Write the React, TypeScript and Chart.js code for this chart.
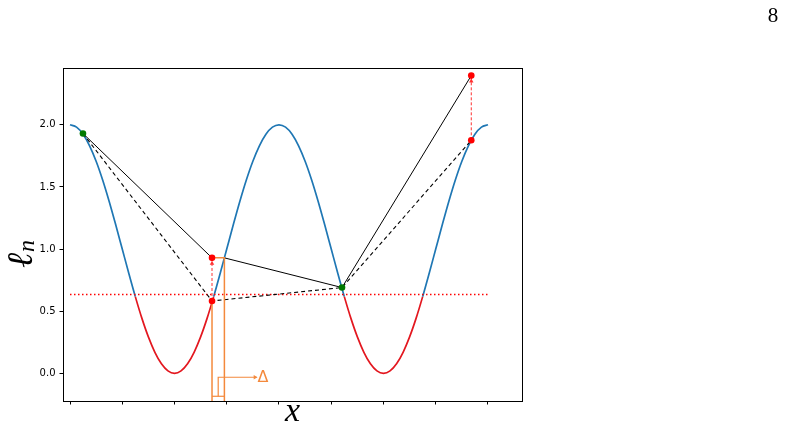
import { useEffect, useRef } from "react";
import { Chart, registerables } from "chart.js";
Chart.register(...registerables);

// x in units of pi/2 (ticks unlabeled)
const curveX = [
  0, 0.125, 0.25, 0.375, 0.5, 0.625, 0.75, 0.875, 1, 1.125, 1.25, 1.375, 1.5, 1.625, 1.75, 1.875,
  2, 2.125, 2.25, 2.375, 2.5, 2.625, 2.75, 2.875, 3, 3.125, 3.25, 3.375, 3.5, 3.625, 3.75, 3.875,
  4, 4.125, 4.25, 4.375, 4.5, 4.625, 4.75, 4.875, 5, 5.125, 5.25, 5.375, 5.5, 5.625, 5.75, 5.875,
  6, 6.125, 6.25, 6.375, 6.5, 6.625, 6.75, 6.875, 7, 7.125, 7.25, 7.375, 7.5, 7.625, 7.75, 7.875, 8,
];
const curveY = [
  2.0, 1.981, 1.924, 1.831, 1.707, 1.556, 1.383, 1.195, 1.0, 0.805, 0.617, 0.444, 0.293, 0.169, 0.076, 0.019,
  0.0, 0.019, 0.076, 0.169, 0.293, 0.444, 0.617, 0.805, 1.0, 1.195, 1.383, 1.556, 1.707, 1.831, 1.924, 1.981,
  2.0, 1.981, 1.924, 1.831, 1.707, 1.556, 1.383, 1.195, 1.0, 0.805, 0.617, 0.444, 0.293, 0.169, 0.076, 0.019,
  0.0, 0.019, 0.076, 0.169, 0.293, 0.444, 0.617, 0.805, 1.0, 1.195, 1.383, 1.556, 1.707, 1.831, 1.924, 1.981, 2.0,
];
const threshold = 0.635;
const thresholdSpan = [0, 8];

const greenX = [0.248, 5.206];
const greenY = [1.93, 0.69];
const lowerRedX = [2.718, 7.68];
const lowerRedY = [0.582, 1.875];
const upperRedY = [0.929, 2.396];
const curveHitX = 2.955;

const bracketY = -0.185;
const arrowY = -0.032;
const arrowTipX = 3.57;
const deltaLabel = "Δ";

const xTicks = [0, 1, 2, 3, 4, 5, 6, 7, 8];
const yTicks = [0, 0.5, 1, 1.5, 2];
const xMin = -0.134;
const xMax = 8.651;
const yMin = -0.223;
const yMax = 2.457;

const BLUE = "#1f77b4";
const RED = "#e3171f";
const ORANGE = "#f4893c";
const GREEN = "#007a00";

export default function App() {
  const ref = useRef<HTMLCanvasElement>(null);
  useEffect(() => {
    const pts = (xs: number[], ys: number[]) => xs.map((x, i) => ({ x, y: ys[i] }));
    const line = (data: any[], color: string, width: number, dash: number[] = [], order = 5) => ({
      data,
      borderColor: color,
      borderWidth: width,
      borderDash: dash,
      pointRadius: 0,
      fill: false,
      tension: 0,
      order,
    });
    const midX = (lowerRedX[0] + curveHitX) / 2;
    const overlay = {
      id: "overlay",
      afterDraw(chart: any) {
        const { ctx, chartArea: a, scales } = chart;
        const xs = scales.x;
        const ys = scales.y;
        ctx.save();
        ctx.strokeStyle = "#000";
        ctx.lineWidth = 1;
        ctx.strokeRect(Math.round(a.left) + 0.5, Math.round(a.top) + 0.5, Math.round(a.right - a.left), Math.round(a.bottom - a.top));
        // delta label
        ctx.fillStyle = ORANGE;
        ctx.font = '16px "DejaVu Sans"';
        ctx.textAlign = "left";
        ctx.textBaseline = "middle";
        ctx.fillText(deltaLabel, xs.getPixelForValue(arrowTipX) + 1, ys.getPixelForValue(arrowY) + 1);
        // x label
        ctx.fillStyle = "#000";
        ctx.font = 'italic 34px "Liberation Serif"';
        ctx.textAlign = "center";
        ctx.textBaseline = "alphabetic";
        ctx.fillText("x", (a.left + a.right) / 2, 421);
        // y label
        ctx.save();
        ctx.translate(32, 268);
        ctx.rotate(-Math.PI / 2);
        ctx.textAlign = "left";
        ctx.font = 'italic 36px "DejaVu Serif"';
        ctx.fillText("ℓ", 0, 0);
        const w = ctx.measureText("ℓ").width;
        ctx.font = 'italic 24px "Liberation Serif"';
        ctx.fillText("n", w + 1, 2);
        ctx.restore();
        // page number
        ctx.font = '21px "Liberation Serif"';
        ctx.textAlign = "center";
        ctx.fillText("8", 773, 22);
        ctx.restore();
      },
    };
    const chart = new Chart(ref.current!, {
      type: "line",
      data: {
        datasets: [
          {
            data: pts(curveX, curveY),
            borderColor: BLUE,
            borderWidth: 1.7,
            pointRadius: 0,
            cubicInterpolationMode: "monotone",
            segment: {
              borderColor: (c: any) => (c.p0.parsed.y < threshold && c.p1.parsed.y < threshold ? RED : BLUE),
            },
            order: 20,
          } as any,
          line(thresholdSpan.map((x) => ({ x, y: threshold })), "red", 1.5, [1.5, 2.5], 19),
          line([{ x: greenX[0], y: greenY[0] }, { x: lowerRedX[0], y: upperRedY[0] }], "#000", 1, [], 8),
          line(
            [
              { x: curveHitX, y: upperRedY[0] },
              { x: greenX[1], y: greenY[1] },
              { x: lowerRedX[1], y: upperRedY[1] },
            ],
            "#000",
            1,
            [],
            8
          ),
          line(
            [
              { x: greenX[0], y: greenY[0] },
              { x: lowerRedX[0], y: lowerRedY[0] },
              { x: greenX[1], y: greenY[1] },
              { x: lowerRedX[1], y: lowerRedY[1] },
            ],
            "#000",
            1.1,
            [4, 3],
            8
          ),
          line([{ x: lowerRedX[0], y: lowerRedY[0] }, { x: lowerRedX[0], y: upperRedY[0] }], "#ff3030", 1, [3, 2], 7),
          line([{ x: lowerRedX[1], y: lowerRedY[1] }, { x: lowerRedX[1], y: upperRedY[1] }], "#ff3030", 1, [3, 2], 7),
          line([{ x: lowerRedX[0], y: yMin }, { x: lowerRedX[0], y: lowerRedY[0] }], ORANGE, 1.5, [], 6),
          line(
            [
              { x: curveHitX, y: yMin },
              { x: curveHitX, y: upperRedY[0] },
              { x: lowerRedX[0], y: upperRedY[0] },
            ],
            ORANGE,
            1.5,
            [],
            6
          ),
          line([{ x: lowerRedX[0], y: bracketY }, { x: curveHitX, y: bracketY }], ORANGE, 1.2, [], 6),
          line(
            [
              { x: midX, y: bracketY },
              { x: midX, y: arrowY },
              { x: arrowTipX, y: arrowY },
            ],
            ORANGE,
            1.2,
            [],
            6
          ),
          {
            data: [
              { x: lowerRedX[0], y: upperRedY[0] - 0.045 },
              { x: lowerRedX[1], y: upperRedY[1] - 0.045 },
              { x: arrowTipX - 0.03, y: arrowY },
            ],
            showLine: false,
            pointStyle: "triangle",
            pointRadius: 2.6,
            pointRotation: [0, 0, 90],
            pointBackgroundColor: ["#ff3030", "#ff3030", ORANGE],
            pointBorderColor: ["#ff3030", "#ff3030", ORANGE],
            pointBorderWidth: 0,
            order: 3,
          } as any,
          {
            data: [...pts(lowerRedX, lowerRedY), ...pts(lowerRedX, upperRedY)],
            showLine: false,
            pointRadius: 3.3,
            pointBackgroundColor: "red",
            pointBorderColor: "red",
            pointBorderWidth: 0,
            order: 2,
          } as any,
          {
            data: pts(greenX, greenY),
            showLine: false,
            pointRadius: 3.3,
            pointBackgroundColor: GREEN,
            pointBorderColor: GREEN,
            pointBorderWidth: 0,
            order: 1,
          } as any,
        ],
      },
      options: {
        responsive: false,
        animation: false,
        events: [],
        layout: { padding: { left: 0, top: 68, right: 263, bottom: 0 } },
        plugins: { legend: { display: false }, tooltip: { enabled: false } },
        scales: {
          x: {
            type: "linear",
            min: xMin,
            max: xMax,
            afterFit: (s: any) => {
              s.height = 27;
            },
            afterBuildTicks: (s: any) => {
              s.ticks = xTicks.map((v) => ({ value: v }));
            },
            ticks: { display: false },
            grid: { drawOnChartArea: false, drawTicks: true, tickLength: 3.5, color: "#000" },
            border: { display: false },
          },
          y: {
            type: "linear",
            min: yMin,
            max: yMax,
            afterFit: (s: any) => {
              s.width = 63;
            },
            afterBuildTicks: (s: any) => {
              s.ticks = yTicks.map((v) => ({ value: v }));
            },
            ticks: {
              color: "#000",
              padding: 4,
              font: { family: "DejaVu Sans", size: 10 },
              callback: (v: any) => Number(v).toFixed(1),
            },
            grid: { drawOnChartArea: false, drawTicks: true, tickLength: 3.5, color: "#000" },
            border: { display: false },
          },
        },
      },
      plugins: [overlay],
    } as any);
    return () => chart.destroy();
  }, []);
  return (
    <div style={{ position: "absolute", left: 0, top: 0, width: 785, height: 428, background: "#fff" }}>
      <canvas ref={ref} width={785} height={428} style={{ display: "block" }} />
    </div>
  );
}
